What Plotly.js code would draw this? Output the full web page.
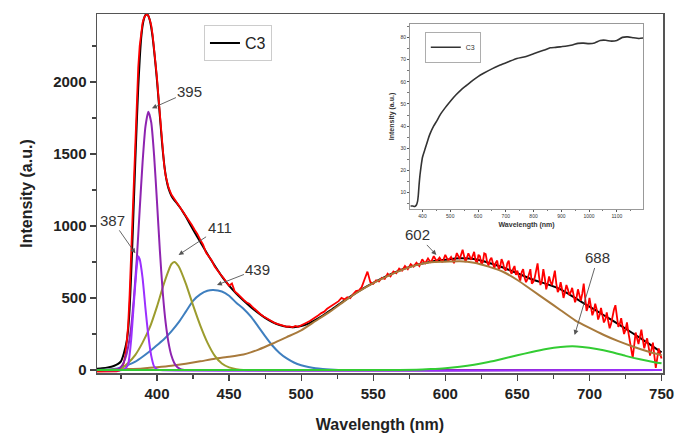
<!DOCTYPE html>
<html><head><meta charset="utf-8">
<script src="https://cdn.plot.ly/plotly-3.0.1.min.js"></script>
<style>html,body{margin:0;padding:0;background:#fff}#chart{width:676px;height:433px}</style>
</head><body><div id="chart"></div>
<script>
// ---- measured spectrum (red) ----
const redX = [358,362,366,370,372,374,375,376,377,378,379,380,381,382,383,384,385,386,387,388,389,390,391,392,393,394,395,396,397,398,399,400,401,402,403,404,405,406,407,408,410,412,414,416,418,
420,422,424,426,428,430,432,434,436,438,440,442,444,446,448,450,452,454,456,458,460,462,464,466,468,470,472,474,476,478,480,482,484,486,488,490,492,494,496,498,500,502,504,506,508,510,512,514,516,518,520,522,524,526,528,
530,532,534,536,538,540,542,544,546,548,550,552,554,556,558,560,562,564,566,568,570,572,574,576,578,580,582,584,586,588,590,592,594,596,598,600,602,604,606,608,610,612,614,616,618,
620,621,622,623,624,625,626,627,628,629,630,631,632,633,634,635,636,637,638,639,640,641,642,643,644,645,646,647,648,649,
650,651,652,653,654,655,656,657,658,659,660,661,662,663,664,665,666,667,668,669,670,671,672,673,674,675,676,677,678,679,
680,681,682,683,684,685,686,687,688,689,690,691,692,693,694,695,696,697,698,699,700,701,702,703,704,705,706,707,708,709,
710,711,712,713,714,715,716,717,718,719,720,721,722,723,724,725,726,727,728,729,730,731,732,733,734,735,736,737,738,739,
740,741,742,743,744,745,746,747,748,749,750];
const redY = [-12,-12,-11,-12,-10,-5,5,20,50,100,190,310,520,790,1100,1380,1620,1880,2100,2250,2350,2410,2445,2462,2468,2460,2432,2395,2325,2235,2135,2030,1900,1770,1635,1510,1420,1350,1300,1268,1218,1188,1165,1132,1100,
1068,1040,1010,975,945,905,870,815,790,760,718,695,665,640,612,585,600,545,528,505,488,470,460,440,420,405,385,372,360,345,335,325,318,310,306,300,302,296,305,300,312,318,330,340,352,368,380,395,405,425,438,452,470,478,500,
490,505,498,525,548,552,575,630,683,610,598,622,615,640,632,668,650,684,672,705,690,722,700,735,718,745,722,768,740,775,745,790,755,780,748,800,758,785,742,812,770,835,750,810,765,
820,760,740,800,790,735,748,810,805,750,725,765,780,730,705,745,760,700,712,770,745,700,690,740,760,690,668,700,722,660,
690,650,620,680,700,640,610,630,665,700,600,610,640,700,740,650,590,620,700,640,560,600,650,610,590,640,690,600,540,560,
610,560,500,540,590,560,520,540,570,520,470,500,560,520,480,530,600,500,410,440,500,440,380,410,460,420,350,380,430,380,
330,350,400,340,290,320,380,420,450,360,300,320,360,300,250,280,330,260,200,150,85,170,260,220,180,230,280,210,150,190,
220,160,100,140,190,100,15,80,150,110,80];

// ---- cumulative fit (black, legend "C3") ----
const fitX = [358,362,366,370,373,375,377,379,380,381,382,383,384,385,386,387,388,389,390,391,392,393,394,395,396,397,398,399,400,401,402,403,404,405,406,407,408,410,412,414,416,418,420,425,430,435,440,445,450,455,460,465,470,475,480,485,490,495,500,505,510,515,520,530,540,550,560,570,580,590,600,610,620,630,640,650,660,670,680,690,700,710,720,730,740,750];
const fitY = [8,12,18,28,42,60,115,200,280,420,640,900,1180,1460,1720,1960,2150,2300,2390,2440,2465,2470,2460,2430,2380,2310,2220,2120,2010,1890,1765,1640,1525,1430,1355,1300,1260,1210,1180,1155,1128,1098,1065,975,890,805,725,650,585,530,482,438,398,362,333,312,300,297,305,322,348,378,412,482,548,605,655,698,730,752,765,775,770,745,712,672,630,598,560,500,440,380,318,255,190,122];

// ---- fitted components ----
const c387X = [358,376,378,380,382,384,386,387,388,390,392,394,396,398,400,402,750];
const c387Y = [0,0,8,40,200,470,720,790,770,640,430,240,100,25,4,0,0];
const c395X = [358,372,374,376,378,380,382,384,386,388,390,392,394,396,398,400,402,404,406,408,410,412,414,416,418,420,750];
const c395Y = [0,3,12,35,80,160,290,500,770,1110,1440,1690,1794,1720,1490,1170,830,540,330,190,100,48,20,8,2,0,0];
const c411X = [358,372,376,380,385,390,395,400,405,410,412,415,420,425,430,435,440,445,450,455,460,750];
const c411Y = [0,3,15,48,105,190,295,440,605,735,750,720,600,450,310,190,100,45,18,6,0,0];
const c439X = [358,370,375,380,385,390,395,400,405,410,415,420,425,430,435,439,445,450,455,460,465,470,475,480,485,490,495,500,505,510,515,520,530,750];
const c439Y = [0,6,17,35,58,92,130,172,215,268,330,405,480,525,550,555,545,515,467,425,372,305,235,170,118,80,52,33,21,12,7,4,0,0];
const c602X = [358,370,380,390,400,410,420,430,440,450,460,465,470,480,490,500,510,520,530,540,550,560,570,580,590,600,610,620,630,640,650,660,670,680,690,700,710,720,730,740,750];
const c602Y = [0,2,6,11,19,29,43,60,78,92,108,122,140,182,228,275,340,405,478,545,603,652,695,728,748,752,755,745,718,682,625,555,485,415,345,292,243,200,163,130,102];
const c688X = [358,560,580,590,600,610,620,630,640,650,660,670,680,688,695,705,715,725,735,745,750];
const c688Y = [0,0,2,6,12,22,36,55,78,102,125,145,159,164,160,146,125,98,74,54,46];

// ---- inset: C3 over a wider range ----
const insetX = [357,365,372,378,382,385,388,391,395,400,410,420,427,440,450,463,480,499,520,540,560,580,600,620,650,680,710,740,770,800,820,840,860,880,900,920,940,960,980,1000,1020,1040,1060,1080,1100,1120,1140,1160,1180,1195];
const insetY = [4,4,3.8,4.5,6,9,14,18,22,26,30,34,36.5,40,42,45,48,51,54,56.5,58.5,60.5,62.3,63.8,65.8,67.5,69,70.5,71.3,72.6,73.5,74.3,75.3,75.5,75.8,76.1,76.6,77.3,77.4,77.2,77.5,78.6,78.7,78.3,78.6,80,80.2,79.8,79.5,79.7];

// ---- tick labels & peak labels ----
const xTicks = [400,450,500,550,600,650,700,750];
const yTicks = [0,500,1000,1500,2000];
const insetXTicks = [400,500,600,700,800,900,1000,1100];
const insetYTicks = [10,20,30,40,50,60,70,80];
const peakLabels = ['387','395','411','439','602','688'];
const peakAtX = [385,396.5,415,441.6,593.8,689.7];
const peakAtY = [810,1817,799,590,799,243];

const FONT = 'Liberation Sans, Arial, sans-serif';
const comp = (x,y,c)=>({x:x,y:y,type:'scatter',mode:'lines',line:{color:c,width:2,shape:'spline',smoothing:0.6},showlegend:false,hoverinfo:'skip'});

const traces = [
  {x:fitX,y:fitY,type:'scatter',mode:'lines',name:'C3',line:{color:'#000000',width:2,shape:'spline',smoothing:0.6}},
  {x:redX,y:redY,type:'scatter',mode:'lines',line:{color:'#ff0000',width:1.8},showlegend:false},
  comp(c439X,c439Y,'#3f7fbf'),
  comp(c602X,c602Y,'#a87a3c'),
  comp(c411X,c411Y,'#9c9c2e'),
  comp(c395X,c395Y,'#8e24b0'),
  comp(c387X,c387Y,'#9b30ff'),
  comp(c688X,c688Y,'#33cc33'),
  {x:insetX,y:insetY,type:'scatter',mode:'lines',name:'C3',xaxis:'x2',yaxis:'y2',legend:'legend2',line:{color:'#333333',width:1.6,shape:'spline',smoothing:0.5}}
];

const annOff = [[-23,-33],[38,-17],[41,-27],[41,-16],[-19,-20],[23,-77]];
const annotations = peakLabels.map((t,i)=>({
  x:peakAtX[i], y:peakAtY[i], xref:'x', yref:'y', text:t, showarrow:true,
  ax:annOff[i][0], ay:annOff[i][1], arrowhead:2, arrowsize:1.1, arrowwidth:0.9, arrowcolor:'#555',
  font:{family:FONT,size:15,color:'#333'}
}));

const layout = {
  width:676, height:433,
  margin:{l:97,r:13,t:14,b:60},
  paper_bgcolor:'#ffffff', plot_bgcolor:'#ffffff',
  font:{family:FONT,color:'#222'},
  xaxis:{domain:[0,1],range:[358.4,751],tickvals:xTicks,ticktext:xTicks.map(String),ticks:'outside',ticklen:6,tickwidth:1.2,tickcolor:'#444',
    minor:{dtick:25,tick0:0,ticks:'outside',ticklen:4,tickcolor:'#444'},
    showline:true,mirror:true,linecolor:'#555',linewidth:1.5,showgrid:false,zeroline:false,
    tickfont:{family:FONT,size:15,color:'#222',weight:'bold'},
    title:{text:'<b>Wavelength (nm)</b>',font:{family:FONT,size:16,color:'#222'},standoff:18}},
  yaxis:{domain:[0,1],range:[-21,2472],tickvals:yTicks,ticktext:yTicks.map(String),ticks:'outside',ticklen:6,tickwidth:1.2,tickcolor:'#444',
    minor:{dtick:250,tick0:0,ticks:'outside',ticklen:4,tickcolor:'#444'},
    showline:true,mirror:true,linecolor:'#555',linewidth:1.5,showgrid:false,zeroline:false,
    tickfont:{family:FONT,size:15,color:'#222',weight:'bold'},
    title:{text:'<b>Intensity (a.u.)</b>',font:{family:FONT,size:16,color:'#222'},standoff:16}},
  xaxis2:{domain:[0.553,0.965],anchor:'y2',range:[355,1195],tickvals:insetXTicks,ticktext:insetXTicks.map(String),ticks:'outside',ticklen:2,tickcolor:'#555',
    minor:{dtick:50,tick0:0,ticks:'outside',ticklen:1.5,tickcolor:'#777'},
    showline:true,mirror:true,linecolor:'#999',linewidth:1,showgrid:false,zeroline:false,
    tickfont:{family:FONT,size:5,color:'#333'},
    title:{text:'<b>Wavelength (nm)</b>',font:{family:FONT,size:7,color:'#333'},standoff:4}},
  yaxis2:{domain:[0.457,0.972],anchor:'x2',range:[2.7,86],tickvals:insetYTicks,ticktext:insetYTicks.map(String),ticks:'outside',ticklen:2,tickcolor:'#555',
    minor:{dtick:5,tick0:0,ticks:'outside',ticklen:1.5,tickcolor:'#777'},
    showline:true,mirror:true,linecolor:'#999',linewidth:1,showgrid:false,zeroline:false,
    tickfont:{family:FONT,size:5,color:'#333'},
    title:{text:'<b>Intensity (a.u.)</b>',font:{family:FONT,size:7,color:'#333'},standoff:4}},
  showlegend:true,
  legend:{x:0.189,y:0.969,xanchor:'left',yanchor:'top',bgcolor:'#ffffff',bordercolor:'#cccccc',borderwidth:1,
    font:{family:FONT,size:16,color:'#222'},itemwidth:30,tracegroupgap:0},
  legend2:{x:0.5795,y:0.95,xanchor:'left',yanchor:'top',bgcolor:'#ffffff',bordercolor:'#999999',borderwidth:0.8,
    font:{family:FONT,size:7,color:'#333'},itemwidth:30},
  annotations:annotations
};

Plotly.newPlot('chart',traces,layout,{displayModeBar:false,staticPlot:true});
</script></body></html>
